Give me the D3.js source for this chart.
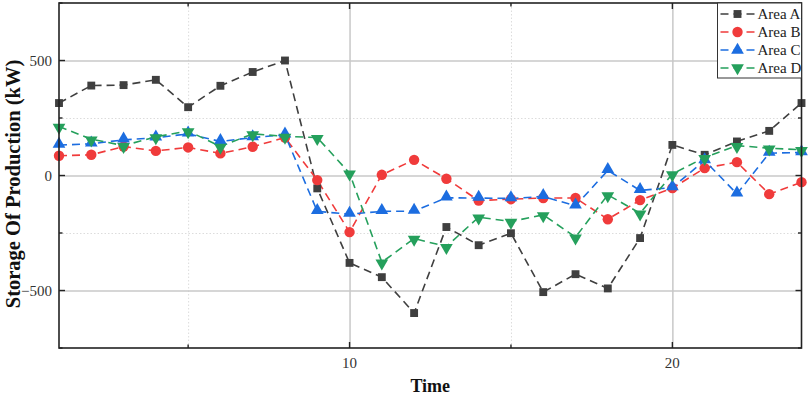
<!DOCTYPE html>
<html>
<head>
<meta charset="utf-8">
<script src="https://cdn.jsdelivr.net/npm/d3@7"></script>
<style>
  html, body { margin: 0; padding: 0; background: #fff; }
  svg { display: block; font-family: "Liberation Serif", "Times New Roman", serif; }
  .grid-major line { stroke: #c8c8c8; stroke-width: 1.5; }
  .grid-minor line { stroke: #dcdcdc; stroke-width: 1; stroke-dasharray: 1.5 2; }
  .grid-major path, .grid-minor path { display: none; }
</style>
</head>
<body>
<div id="chart"></div>
<script>
// Storage of production per area over time
const times = d3.range(1, 25);
const areaA = [315, 391, 393, 416, 297, 390, 450, 500, -56, -380, -442, -598, -224, -303, -251, -507, -429, -491, -272, 133, 90, 148, 194, 315];
const areaB = [86, 90, 126, 107, 122, 96, 125, 165, -20, -246, 3, 68, -14, -109, -103, -98, -98, -190, -107, -55, 32, 58, -81, -29];
const areaC = [132, 138, 155, 164, 181, 148, 165, 177, -156, -168, -156, -155, -97, -98, -100, -91, -132, 22, -65, -52, 65, -80, 97, 100];
const areaD = [213, 158, 130, 168, 194, 126, 181, 170, 165, 10, -377, -274, -309, -181, -200, -171, -268, -84, -164, 7, 78, 130, 119, 112];
const seriesNames = ["Area A", "Area B", "Area C", "Area D"];

const xMajor = [10, 20];
const xMinor = [5, 15];
const yMajor = [-500, 0, 500];
const yMinor = [-750, -250, 250, 750];

function renderChart() {
  const width = 809, height = 395;
  const margin = { top: 3, right: 7.5, bottom: 47, left: 59 };
  const innerWidth = width - margin.left - margin.right;
  const innerHeight = height - margin.top - margin.bottom;

  const svg = d3.select("#chart").append("svg")
    .attr("width", width)
    .attr("height", height);

  const g = svg.append("g")
    .attr("transform", `translate(${margin.left},${margin.top})`);

  const x = d3.scaleLinear().domain([1, 24]).range([0, innerWidth]);
  const y = d3.scaleLinear().domain([-750, 750]).range([innerHeight, 0]);

  // grid
  g.append("g").attr("class", "grid-minor")
    .call(d3.axisLeft(y).tickValues([-250, 250]).tickSize(-innerWidth).tickFormat(""));
  g.append("g").attr("class", "grid-minor")
    .attr("transform", `translate(0,${innerHeight})`)
    .call(d3.axisBottom(x).tickValues(xMinor).tickSize(-innerHeight).tickFormat(""));
  g.append("g").attr("class", "grid-major")
    .call(d3.axisLeft(y).tickValues(yMajor).tickSize(-innerWidth).tickFormat(""));
  g.append("g").attr("class", "grid-major")
    .attr("transform", `translate(0,${innerHeight})`)
    .call(d3.axisBottom(x).tickValues(xMajor).tickSize(-innerHeight).tickFormat(""));

  // series
  const colors = ["#3f3f3f", "#f03b3b", "#1c6de0", "#25a05c"];
  const symbols = [d3.symbolSquare, d3.symbolCircle, d3.symbolTriangle, d3.symbolTriangle];
  const sizes = [62, 85, 70, 70];
  const rotations = [0, 0, 0, 180];
  const allSeries = [areaA, areaB, areaC, areaD];

  const line = d3.line().x((d, i) => x(times[i])).y(d => y(d));

  allSeries.forEach((vals, s) => {
    g.append("path")
      .datum(vals)
      .attr("fill", "none")
      .attr("stroke", colors[s])
      .attr("stroke-width", 1.6)
      .attr("stroke-dasharray", "8 5")
      .attr("d", line);
  });

  allSeries.forEach((vals, s) => {
    const sym = d3.symbol().type(symbols[s]).size(sizes[s]);
    g.append("g").selectAll("path")
      .data(vals)
      .join("path")
      .attr("d", sym)
      .attr("fill", colors[s])
      .attr("transform", (d, i) => `translate(${x(times[i])},${y(d) + (s === 3 ? 1 : s === 2 ? -1 : 0)}) rotate(${rotations[s]})`);
  });

  // frame
  g.append("rect")
    .attr("width", innerWidth)
    .attr("height", innerHeight)
    .attr("fill", "none")
    .attr("stroke", "#222")
    .attr("stroke-width", 1.6);

  // ticks (inward, mirrored)
  const tickG = g.append("g").attr("stroke", "#222").attr("stroke-width", 1.4);
  const xt = xMajor.map(v => ({ v, len: 6 })).concat(xMinor.map(v => ({ v, len: 3.5 })));
  const yt = yMajor.map(v => ({ v, len: 6 })).concat(yMinor.map(v => ({ v, len: 3.5 })));
  xt.forEach(t => {
    tickG.append("line").attr("x1", x(t.v)).attr("x2", x(t.v)).attr("y1", innerHeight).attr("y2", innerHeight - t.len);
    tickG.append("line").attr("x1", x(t.v)).attr("x2", x(t.v)).attr("y1", 0).attr("y2", t.len);
  });
  yt.forEach(t => {
    tickG.append("line").attr("y1", y(t.v)).attr("y2", y(t.v)).attr("x1", 0).attr("x2", t.len);
    tickG.append("line").attr("y1", y(t.v)).attr("y2", y(t.v)).attr("x1", innerWidth).attr("x2", innerWidth - t.len);
  });

  // tick labels
  g.append("g").selectAll("text")
    .data(xMajor)
    .join("text")
    .attr("x", d => x(d))
    .attr("y", innerHeight + 20)
    .attr("text-anchor", "middle")
    .attr("font-size", 15)
    .attr("fill", "#333")
    .text(d => d);

  g.append("g").selectAll("text")
    .data(yMajor)
    .join("text")
    .attr("x", -7)
    .attr("y", d => y(d) + 5)
    .attr("text-anchor", "end")
    .attr("font-size", 15)
    .attr("fill", "#333")
    .text(d => d3.format("")(d).replace("-", "\u2212"));

  // axis labels
  g.append("text")
    .attr("x", innerWidth / 2)
    .attr("y", innerHeight + 44)
    .attr("text-anchor", "middle")
    .attr("font-size", 18)
    .attr("font-weight", "bold")
    .attr("fill", "#111")
    .text("Time");

  g.append("text")
    .attr("transform", "rotate(-90)")
    .attr("x", -181)
    .attr("y", -39)
    .attr("text-anchor", "middle")
    .attr("font-size", 20.5)
    .attr("font-weight", "bold")
    .attr("fill", "#111")
    .text("Storage Of Production (kW)");

  // legend
  const lgW = 84, lgH = 75;
  const lg = g.append("g").attr("transform", `translate(${innerWidth - lgW},0)`);
  lg.append("rect")
    .attr("width", lgW)
    .attr("height", lgH)
    .attr("fill", "#fff")
    .attr("stroke", "#333")
    .attr("stroke-width", 1);
  seriesNames.forEach((name, s) => {
    const cy = 11 + s * 18;
    lg.append("line")
      .attr("x1", 3).attr("x2", 38)
      .attr("y1", cy).attr("y2", cy)
      .attr("stroke", colors[s])
      .attr("stroke-width", 1.6)
      .attr("stroke-dasharray", "8 5");
    lg.append("path")
      .attr("d", d3.symbol().type(symbols[s]).size(sizes[s])())
      .attr("fill", colors[s])
      .attr("transform", `translate(20,${cy}) rotate(${rotations[s]})`);
    lg.append("text")
      .attr("x", 40)
      .attr("y", cy + 5)
      .attr("font-size", 15)
      .attr("fill", "#222")
      .text(name);
  });
}

renderChart();
</script>
</body>
</html>
